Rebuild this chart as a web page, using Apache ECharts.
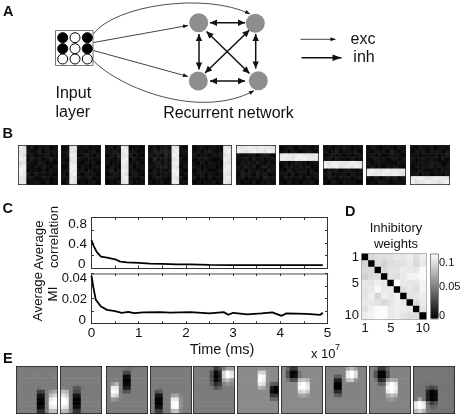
<!DOCTYPE html>
<html lang="en">
<head>
    <meta charset="UTF-8">
    <title>Recurrent network</title>
    <script src="https://cdn.jsdelivr.net/npm/echarts@6/dist/echarts.min.js"></script>
    <style type="text/css">
        html, body { margin: 0; padding: 0; background: #fff; }
        /* the figure is a soft scan, a small blur brings the hard cell edges closer to it */
        #main { width: 462px; height: 417px; filter: blur(0.5px); }
    </style>
</head>
<body>
<div id="main"></div>
<script type="text/javascript">
    // panel A, schematic (units are pixels of the hidden grid)
    const inputBox = [[55.5, 30.5, 93, 65.5]];
    const inputCircles = [[62.7, 37.7, 1], [75, 37.7, 0], [87.3, 37.7, 1], [62.7, 48.7, 1], [75, 48.7, 0], [87.3, 48.7, 1], [62.7, 59, 0], [75, 59, 0], [87.3, 59, 0]];
    const networkNodes = [[198.7, 22.7], [255.3, 23.3], [198.3, 81], [258.3, 80.7]];
    const excEdges = [[93.5, 42.5, 188, 25.5], [93.5, 50.5, 188, 76.5], [300.5, 39.3, 335.5, 39.3]];
    const excCurves = [[93.3, 34, 115, 5, 205, -8, 250, 14], [93.3, 60.7, 120, 88, 200, 120, 254, 90.7]];
    const inhEdges = [[210, 22.7, 245, 22.7], [199, 34, 199, 69.5], [255.7, 34, 255.7, 68.5], [210, 81, 245, 81], [206.5, 31.5, 249.5, 73.5], [249.5, 30, 205, 73]];
    const inhLegend = [[301.5, 57.7, 341.5, 57.7]];

    // panel B, receptive fields, one base-36 digit per cell (0 black .. z white)
    const bPanel1 = ['wv24132312', 'vw31241323', 'wu23122312', 'xw14231242', 'uv32143121', 'wx21324213', 'yw12213132', 'xw31422121', 'wv23113212', 'ww12321312'];
    const bPanel2 = ['12vw323122', '23wv231231', '13xw124213', '21vw321322', '32wv213231', '12xx132123', '23xw231312', '31wx213221', '22wv322312', '13wv121231'];
    const bPanel3 = ['2313wv1221', '3242wx2312', '1324vw3121', '2213wx1312', '3122xw2231', '1321wv3123', '2413xw2212', '1232wv1321', '2321wx2213', '1213vw3122'];
    const bPanel4 = ['131342wv21', '243454wx23', '323153xw12', '152342vw31', '234243wx22', '323452wv13', '132323xw21', '231232wx12', '123221wv31', '212312xw23'];
    const bPanel5 = ['12312321wv', '23134212wx', '31221323vw', '13232112xw', '21313221wv', '32122312wx', '13231123xw', '22313212wv', '31213121wx', '12122312wv'];
    const bPanel6 = ['wvwxwvxwwv', 'xwvwxwwvxw', '3122312321', '2231423123', '1323242132', '3242413423', '2313232143', '1423142312', '2312231423', '3121312232'];
    const bPanel7 = ['1232132213', '2313212321', 'wxwvwxwwvw', 'xwwvxwxwwv', '2312432123', '1323242312', '2142323131', '2313132123', '1322231312', '2131212231'];
    const bPanel8 = ['2313243122', '3124132231', '1232313123', '2313221312', 'wvxwwvwxwv', 'xwwxvwwvxw', '1323123213', '2412231322', '1321323123', '2132132211'];
    const bPanel9 = ['1321232132', '2132314213', '2313123221', '1232312313', '3123221132', '2312132321', 'wxwvwxwwvw', 'xwvwxwwxwv', '2131242313', '1213321222'];
    const bPanel10 = ['2132231232', '1323132313', '2212323124', '3123232131', '2232343212', '1323342323', '2132223132', '2313312213', 'wwxwvwxwwv', 'xvwwxwwvwx'];
    const bPanels = [bPanel1, bPanel2, bPanel3, bPanel4, bPanel5, bPanel6, bPanel7, bPanel8, bPanel9, bPanel10];

    // panel C
    const corrTime = [0, 0.04, 0.11, 0.2, 0.33, 0.5, 0.61, 0.75, 1, 1.24, 1.5, 1.81, 2.09, 2.5, 3, 3.5, 4, 4.5, 4.9];
    const corrValue = [0.44, 0.36, 0.254, 0.18, 0.164, 0.138, 0.1, 0.09, 0.08, 0.069, 0.064, 0.058, 0.056, 0.05, 0.045, 0.047, 0.047, 0.047, 0.045];
    const miTime = [0, 0.04, 0.09, 0.2, 0.33, 0.5, 0.64, 0.78, 0.9, 1.1, 1.45, 1.67, 2.09, 2.5, 2.8, 2.9, 3, 3.3, 3.6, 3.83, 4.03, 4.13, 4.55, 4.85, 4.9];
    const miValue = [0.0382, 0.029, 0.0192, 0.0137, 0.011, 0.01, 0.0087, 0.0095, 0.0084, 0.009, 0.0092, 0.0088, 0.0092, 0.0082, 0.0092, 0.0071, 0.0087, 0.0075, 0.0082, 0.009, 0.0063, 0.0082, 0.0078, 0.0071, 0.0087];

    // panel D
    const weightLabels = ['1', '', '', '', '5', '', '', '', '', '10'];
    const weights = [
        [0, 0.097, 0.1, 0.1, 0.102, 0.105, 0.103, 0.108, 0.1, 0.108],
        [0.096, 0, 0.1, 0.095, 0.1, 0.1, 0.102, 0.105, 0.098, 0.105],
        [0.098, 0.098, 0, 0.098, 0.102, 0.102, 0.107, 0.105, 0.104, 0.113],
        [0.094, 0.098, 0.1, 0, 0.102, 0.1, 0.105, 0.11, 0.11, 0.113],
        [0.104, 0.103, 0.108, 0.105, 0, 0.115, 0.105, 0.104, 0.104, 0.11],
        [0.103, 0.105, 0.112, 0.105, 0.105, 0, 0.1, 0.104, 0.1, 0.11],
        [0.103, 0.108, 0.096, 0.108, 0.104, 0.108, 0, 0.102, 0.104, 0.107],
        [0.105, 0.105, 0.102, 0.098, 0.103, 0.108, 0.105, 0, 0.098, 0.106],
        [0.102, 0.108, 0.113, 0.113, 0.105, 0.108, 0.107, 0.104, 0, 0.102],
        [0.107, 0.11, 0.113, 0.113, 0.105, 0.108, 0.103, 0.1, 0.1, 0]
    ];

    // panel E, inhibitory/excitatory fields, same digits as panel B
    const ePanel1 = ['hhhhhhhhhh', 'hhhhhhhhhh', 'hhhhihhhhi', 'hhhhhhhhhh', 'hhhhhhhhhh', 'hhhhhghhhh', 'hhhhh99hln', 'hhhhh33hqt', 'hhhhh11hwy', 'hhhhh00hyz', 'hhhhh12hwx', 'hhhhh66hqq'];
    const ePanel2 = ['hhhhhhhhhh', 'hhhhhhhhhh', 'hhhhhhhhhh', 'hhhhhhhhhh', 'hhhhhhhhhh', 'ihhccghhhh', 'qphaahhhhh', 'vth33hhhhh', 'zxh00hhhhh', 'zyh00hhhhh', 'xvh22hhhhh', 'qph77hhhhh'];
    const ePanel3 = ['hhhhgfghhh', 'hhhhaahhhh', 'hhhh22hhhh', 'hhih00hhhh', 'hlph11hhhh', 'hxwi44hhhh', 'hzyhbchhhh', 'hvtihhhhhh', 'hlkhhhhhhh', 'hhhhhhhhhh', 'hhhhhhhhhh', 'hhhhhhhhhh'];
    const ePanel4 = ['hhhhhhhhhh', 'hhhhhhhhhh', 'hhhhhhhhhh', 'hhhhhhhhhh', 'hhhhhhhhhh', 'hhghhhhhhh', 'hbchhhhhhh', 'h33hhmnihh', 'h00hhwwkhh', 'h00hhyzkhh', 'h22hhyzkhh', 'h88hhqrjhh'];
    const ePanel5 = ['hhhhg8bhmm', 'hhhhb15tzv', 'hhhha04tzw', 'hhhhb15nql', 'hhhhd68ikj', 'hhhhgbdhhh', 'hhhhhhhhhh', 'hhhhhhhhhh', 'hhhhhhhhhh', 'hhhhhhhhhh', 'hhhhhhhhhh', 'hhhhhhhhhh'];
    const ePanel6 = ['jjjjjkkjjj', 'jjjjjttkjj', 'jjjjjzykjj', 'jjjjjzxkjj', 'jjjjjwujdc', 'jjjjjonj41', 'jjjjjjjj20', 'jjjjjjjj88', 'jjjjjjjjee', 'jjjjjjjjjj', 'jjjjjjjjjj', 'jjjjjjjjjj'];
    const ePanel7 = ['jf88jjjjjj', 'jb11gjjjjj', 'jb12gjjjjj', 'jgbbqrpjjj', 'jjjjxzwjjj', 'jjjjzzxjjj', 'jjjjtvsjjj', 'jjjjmnljjj', 'jjjjjjjjjj', 'jjjjjjjjjj', 'jjjjjjjjjj', 'jjjjjjjjjj'];
    const ePanel8 = ['iiiiinqmii', 'iiiiiwzvii', 'iiddixzuii', 'ii44iqskii', 'ii00iiiiii', 'ii00iiiiii', 'ii66iiiiii', 'iidciiiiii', 'iiiiiiiiii', 'iiiiiiiiii', 'iiiiiiiiii', 'iiiiiiiiii'];
    const ePanel9 = ['ig88eiiiii', 'ib00biiiii', 'ib00biiiii', 'ig56loniii', 'iiddvzwiii', 'iiiiyzxiii', 'iiiiwzwiii', 'iiiinqoiii', 'iiiikljiii', 'iiiiiiiiii', 'iiiiiiiiii', 'iiiiiiiiii'];
    const ePanel10 = ['gggggggggg', 'gggggggggg', 'gggggggggg', 'gggggggggg', 'ggggfggggg', 'gggc9bgggg', 'ggg502gggg', 'ggg401gggg', 'gng401gggg', 'wzwf8bgggg', 'wzxhdegggg', 'qtphgggggg'];
    const ePanels = [ePanel1, ePanel2, ePanel3, ePanel4, ePanel5, ePanel6, ePanel7, ePanel8, ePanel9, ePanel10];

    // where the small panels sit
    const bLeft = [19, 62, 106, 149, 193, 237, 280, 324, 367, 411];
    const eLeft = [17, 61, 107, 151, 194, 238, 282, 326, 370, 414];

    const FONT = '"Liberation Sans", Arial, sans-serif';
    const myChart = echarts.init(document.getElementById('main'), null, {renderer: 'canvas'});

    const grids = [], xAxes = [], yAxes = [], series = [];
    const graySeries = [];

    function hiddenAxis(n, inverse) {
        const cats = [];
        for (let i = 0; i < n; i++) cats.push(String(i));
        return {type: 'category', data: cats, show: false, inverse: inverse};
    }

    function cellsFromRows(rows) {
        const cells = [];
        rows.forEach(function (row, r) {
            for (let c = 0; c < row.length; c++) {
                cells.push([c, r, parseInt(row[c], 36)]);
            }
        });
        return cells;
    }

    function addField(rows, left, top, width, height) {
        const idx = grids.length;
        grids.push({
            left: left, top: top, width: width, height: height, show: true,
            borderColor: '#1c1c1c', borderWidth: 2, backgroundColor: 'transparent'
        });
        xAxes.push(Object.assign(hiddenAxis(rows[0].length, false), {gridIndex: idx}));
        yAxes.push(Object.assign(hiddenAxis(rows.length, true), {gridIndex: idx}));
        graySeries.push(series.length);
        series.push({
            type: 'heatmap', xAxisIndex: xAxes.length - 1, yAxisIndex: yAxes.length - 1,
            data: cellsFromRows(rows), silent: true, progressive: 0
        });
    }

    bPanels.forEach(function (rows, i) { addField(rows, bLeft[i], 146, 38, 38); });
    ePanels.forEach(function (rows, i) { addField(rows, eLeft[i], 367, 40, 46); });

    // panel A on a hidden pixel grid
    const aIndex = grids.length;
    grids.push({left: 0, top: 0, width: 462, height: 125});
    xAxes.push({type: 'value', gridIndex: aIndex, min: 0, max: 462, show: false});
    yAxes.push({type: 'value', gridIndex: aIndex, min: 0, max: 125, inverse: true, show: false});

    function arrowHead(x, y, fromX, fromY, len, half, color) {
        const a = Math.atan2(y - fromY, x - fromX);
        const bx = x - len * Math.cos(a), by = y - len * Math.sin(a);
        return {
            type: 'polygon',
            shape: {points: [[x, y], [bx - half * Math.sin(a), by + half * Math.cos(a)], [bx + half * Math.sin(a), by - half * Math.cos(a)]]},
            style: {fill: color}
        };
    }

    function edgeRenderer(width, len, half, both) {
        return function (params, api) {
            const p0 = api.coord([api.value(0), api.value(1)]);
            const p1 = api.coord([api.value(2), api.value(3)]);
            const kids = [{
                type: 'line',
                shape: {x1: p0[0], y1: p0[1], x2: p1[0], y2: p1[1]},
                style: {stroke: '#111', lineWidth: width}
            }, arrowHead(p1[0], p1[1], p0[0], p0[1], len, half, '#111')];
            if (both) kids.push(arrowHead(p0[0], p0[1], p1[0], p1[1], len, half, '#111'));
            return {type: 'group', children: kids};
        };
    }

    function curveRenderer(params, api) {
        const p0 = api.coord([api.value(0), api.value(1)]);
        const c1 = api.coord([api.value(2), api.value(3)]);
        const c2 = api.coord([api.value(4), api.value(5)]);
        const p1 = api.coord([api.value(6), api.value(7)]);
        return {
            type: 'group',
            children: [{
                type: 'bezierCurve',
                shape: {x1: p0[0], y1: p0[1], cpx1: c1[0], cpy1: c1[1], cpx2: c2[0], cpy2: c2[1], x2: p1[0], y2: p1[1]},
                style: {stroke: '#222', lineWidth: 0.8, fill: 'none'}
            }, arrowHead(p1[0], p1[1], c2[0], c2[1], 5, 2, '#111')]
        };
    }

    function addSchematic(data, renderItem, dims) {
        series.push({
            type: 'custom', xAxisIndex: xAxes.length - 1, yAxisIndex: yAxes.length - 1, silent: true,
            coordinateSystem: 'cartesian2d', data: data, renderItem: renderItem,
            encode: {x: dims[0], y: dims[1]}
        });
    }

    addSchematic(inputBox, function (params, api) {
        const a = api.coord([api.value(0), api.value(1)]);
        const b = api.coord([api.value(2), api.value(3)]);
        return {
            type: 'rect',
            shape: {x: a[0], y: a[1], width: b[0] - a[0], height: b[1] - a[1]},
            style: {fill: '#fff', stroke: '#777', lineWidth: 1}
        };
    }, [[0, 2], [1, 3]]);
    addSchematic(excEdges, edgeRenderer(0.8, 5, 2, false), [[0, 2], [1, 3]]);
    addSchematic(excCurves, curveRenderer, [[0, 6], [1, 7]]);
    addSchematic(inhEdges, edgeRenderer(1.5, 7, 3.2, true), [[0, 2], [1, 3]]);
    addSchematic(inhLegend, edgeRenderer(1.5, 9, 3.2, false), [[0, 2], [1, 3]]);

    series.push({
        type: 'scatter', xAxisIndex: xAxes.length - 1, yAxisIndex: yAxes.length - 1, silent: true, symbolSize: 19,
        itemStyle: {color: '#8e8e8e', opacity: 1}, data: networkNodes, z: 5
    });
    series.push({
        type: 'scatter', xAxisIndex: xAxes.length - 1, yAxisIndex: yAxes.length - 1, silent: true, symbolSize: 10, z: 5,
        data: inputCircles.map(function (c) {
            return {value: [c[0], c[1]], itemStyle: {color: c[2] ? '#000' : '#fff', borderColor: '#000', borderWidth: 1, opacity: 1}};
        })
    });

    // panel C
    function addLinePanel(top, height, yMax, yStep, times, values, showLabels, topColor, topWidth) {
        const idx = grids.length;
        const ticks = {show: true, inside: true, length: 2.5, lineStyle: {color: '#333', width: 1}};
        grids.push({left: 91.5, top: top, width: 236, height: height});
        const baseLine = {show: true, onZero: false, lineStyle: {color: '#333', width: 1}};
        xAxes.push({
            type: 'value', gridIndex: idx, position: 'bottom', min: 0, max: 5, interval: 0.5,
            axisLine: baseLine, axisTick: ticks, splitLine: {show: false},
            axisLabel: {
                show: showLabels, color: '#111', fontFamily: FONT, fontSize: 13.5, margin: 3,
                formatter: function (v) { return Number.isInteger(v) ? String(v) : ''; }
            }
        });
        xAxes.push({
            type: 'value', gridIndex: idx, position: 'top', min: 0, max: 5, interval: 0.5,
            axisLine: {show: true, onZero: false, lineStyle: {color: topColor, width: topWidth}},
            axisTick: ticks, axisLabel: {show: false}, splitLine: {show: false}
        });
        yAxes.push({
            type: 'value', gridIndex: idx, position: 'left', min: 0, max: yMax, interval: yStep,
            axisLine: baseLine, axisTick: ticks, axisLabel: {show: false}, splitLine: {show: false}
        });
        yAxes.push({
            type: 'value', gridIndex: idx, position: 'right', min: 0, max: yMax, interval: yStep,
            axisLine: baseLine, axisTick: ticks, axisLabel: {show: false}, splitLine: {show: false}
        });
        series.push({
            type: 'line', xAxisIndex: xAxes.length - 2, yAxisIndex: yAxes.length - 2,
            data: times.map(function (t, i) { return [t, values[i]]; }),
            showSymbol: false, silent: true, lineStyle: {color: '#000', width: 1.8}
        });
    }
    addLinePanel(217.5, 50.5, 0.8, 0.2, corrTime, corrValue, false, '#333', 1);
    addLinePanel(273.5, 50.2, 0.04, 0.01, miTime, miValue, true, '#888', 1.5);

    // panel D
    const dIndex = grids.length;
    grids.push({left: 362, top: 254, width: 64, height: 65, show: true, borderColor: '#888', borderWidth: 1.5, backgroundColor: 'transparent'});
    const dLabel = {show: true, interval: 0, color: '#111', fontFamily: FONT, fontSize: 13, margin: 3};
    const dCats = weightLabels.map(function (l, i) { return String(i); });
    const dFormatter = function (v) { return weightLabels[+v]; };
    xAxes.push({type: 'category', gridIndex: dIndex, data: dCats, axisLine: {show: false}, axisTick: {show: false}, axisLabel: Object.assign({formatter: dFormatter}, dLabel)});
    yAxes.push({type: 'category', gridIndex: dIndex, inverse: true, data: dCats, axisLine: {show: false}, axisTick: {show: false}, axisLabel: Object.assign({formatter: dFormatter}, dLabel)});
    const dSeries = series.length;
    const weightCells = [];
    weights.forEach(function (row, r) { row.forEach(function (v, c) { weightCells.push([c, r, v]); }); });
    series.push({type: 'heatmap', xAxisIndex: xAxes.length - 1, yAxisIndex: yAxes.length - 1, data: weightCells, silent: true, progressive: 0});

    // all the loose text
    const texts = [
        ['A', 3, 11.5, 'left', 14.5, 'bold'], ['B', 2.5, 133.5, 'left', 14.5, 'bold'], ['C', 2.5, 208.5, 'left', 14.5, 'bold'],
        ['D', 345, 212, 'left', 14.5, 'bold'], ['E', 3, 359, 'left', 14.5, 'bold'],
        ['Input', 55.5, 94, 'left', 16, 'normal'], ['layer', 55.5, 113, 'left', 16, 'normal'],
        ['Recurrent network', 228.5, 113.5, 'center', 16, 'normal'],
        ['exc', 363, 40, 'center', 16, 'normal'], ['inh', 364, 58, 'center', 16, 'normal'],
        ['0.8', 87, 224, 'right', 13.5, 'normal'], ['0.4', 87, 244, 'right', 13.5, 'normal'], ['0', 85.5, 264, 'right', 13.5, 'normal'],
        ['0.04', 87, 278, 'right', 13, 'normal'], ['0.02', 87, 299, 'right', 13, 'normal'], ['0', 86, 320, 'right', 13.5, 'normal'],
        ['Time (ms)', 222, 350, 'center', 14.5, 'normal'],
        ['x 10', 311, 354, 'left', 13, 'normal'], ['7', 335, 347.5, 'left', 9, 'normal'],
        ['Inhibitory', 396, 228, 'center', 13, 'normal'], ['weights', 396, 244, 'center', 13, 'normal'],
        ['0.1', 439, 262.5, 'left', 11, 'normal'], ['0.05', 439, 287, 'left', 11, 'normal'], ['0', 439, 315.5, 'left', 11, 'normal']
    ];
    const rotatedTexts = [['Average', 39.5, 245], ['correlation', 54, 237], ['Average', 38.5, 296.5], ['MI', 53.5, 294]];

    const graphics = texts.map(function (t) {
        return {
            type: 'text', x: t[1], y: t[2], silent: true,
            style: {text: t[0], fill: '#111', textAlign: t[3], textVerticalAlign: 'middle', fontFamily: FONT, fontSize: t[4], fontWeight: t[5]}
        };
    }).concat(rotatedTexts.map(function (t) {
        return {
            type: 'text', x: t[1], y: t[2], rotation: Math.PI / 2, silent: true,
            style: {text: t[0], fill: '#111', textAlign: 'center', textVerticalAlign: 'middle', fontFamily: FONT, fontSize: 13.3}
        };
    }));
    graphics.push({type: 'rect', z: 100, silent: true, shape: {x: 430.5, y: 254, width: 8, height: 65}, style: {fill: 'none', stroke: '#888', lineWidth: 1}});

    const option = {
        animation: false,
        backgroundColor: '#fff',
        grid: grids,
        xAxis: xAxes,
        yAxis: yAxes,
        series: series,
        graphic: graphics,
        visualMap: [
            {type: 'continuous', show: false, min: 0, max: 35, seriesIndex: graySeries, inRange: {color: ['#000', '#fff']}},
            {
                type: 'continuous', show: true, min: 0, max: 0.115, seriesIndex: dSeries, calculable: false, realtime: false,
                left: 430.5, top: 254, itemWidth: 8, itemHeight: 65, padding: 0, inRange: {color: ['#000', '#fff']},
                textStyle: {color: 'transparent', fontSize: 1}, text: null, silent: true
            }
        ]
    };
    myChart.setOption(option);
</script>
</body>
</html>
